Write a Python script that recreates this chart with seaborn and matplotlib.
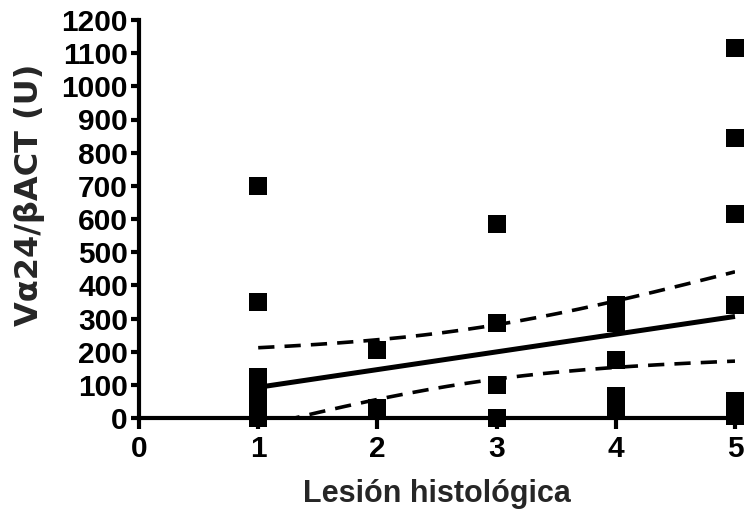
import numpy as np
import pandas as pd
import matplotlib
matplotlib.use("Agg")
import matplotlib.pyplot as plt
import seaborn as sns

# Vα24/βACT expression (U) per histological lesion grade
grade1 = [700, 350, 125, 100, 80, 60, 45, 30, 20, 15, 10, 8, 5, 3, 2, 0]
grade2 = [205, 30]
grade3 = [585, 285, 100, 0]
grade4 = [340, 320, 300, 285, 175, 65, 45, 30]
grade5 = [1115, 845, 615, 340, 50, 30, 20, 10, 5]

x_ticks = [0, 1, 2, 3, 4, 5]
y_ticks = list(range(0, 1201, 100))

groups = {1: grade1, 2: grade2, 3: grade3, 4: grade4, 5: grade5}
df = pd.DataFrame(
    [(g, v) for g, vals in groups.items() for v in vals],
    columns=["lesion", "value"],
)

sns.set_style("ticks")
plt.rcParams["font.family"] = ["Liberation Sans", "DejaVu Sans"]
plt.rcParams["font.weight"] = "bold"

fig = plt.figure(figsize=(7.44, 5.15), dpi=100)
ax = fig.add_axes([139 / 744, 1 - 418 / 515, (735 - 139) / 744, (418 - 20) / 515])

# linear regression with 95% confidence band
x = df["lesion"].to_numpy(float)
y = df["value"].to_numpy(float)
n = len(x)
slope, intercept = np.polyfit(x, y, 1)
resid = y - (intercept + slope * x)
s = np.sqrt(np.sum(resid ** 2) / (n - 2))
try:
    from scipy import stats
    tcrit = stats.t.ppf(0.975, n - 2)
except Exception:
    tcrit = 2.026
xm = x.mean()
sxx = np.sum((x - xm) ** 2)
grid = np.linspace(x.min(), x.max(), 200)
fit = intercept + slope * grid
half = tcrit * s * np.sqrt(1 / n + (grid - xm) ** 2 / sxx)
band = pd.DataFrame({"x": grid, "fit": fit, "lo": fit - half, "hi": fit + half})

sns.lineplot(data=band, x="x", y="fit", ax=ax, color="black", lw=3.6,
             solid_capstyle="butt", clip_on=False)
for col in ["lo", "hi"]:
    sns.lineplot(data=band, x="x", y=col, ax=ax, color="black", lw=2.6,
                 dashes=False, linestyle=(0, (4.5, 2.8)))

sns.scatterplot(data=df, x="lesion", y="value", ax=ax, marker="s", s=150,
                color="black", linewidth=0, clip_on=False, zorder=5)

ax.set_xlim(0, 5)
ax.set_ylim(0, 1200)
ax.set_xticks(x_ticks)
ax.set_yticks(y_ticks)
ax.set_xticklabels([str(t) for t in x_ticks], fontsize=21.5, fontweight="bold")
ax.set_yticklabels([str(t) for t in y_ticks], fontsize=21.5, fontweight="bold")

ax.set_xlabel("Lesión histológica", fontsize=22, fontweight="bold", labelpad=12)
ax.set_ylabel("Vα24/βACT (U)", fontsize=23, fontweight="bold",
              family=["DejaVu Sans"])
ax.yaxis.set_label_coords(-0.158, 0.56)

for side in ["top", "right"]:
    ax.spines[side].set_visible(False)
for side in ["left", "bottom"]:
    ax.spines[side].set_linewidth(3)
    ax.spines[side].set_color("black")
ax.tick_params(axis="y", length=6, width=3, pad=2, colors="black")
ax.tick_params(axis="x", length=8, width=3, pad=4, colors="black")

fig.savefig("out.png", dpi=100)
